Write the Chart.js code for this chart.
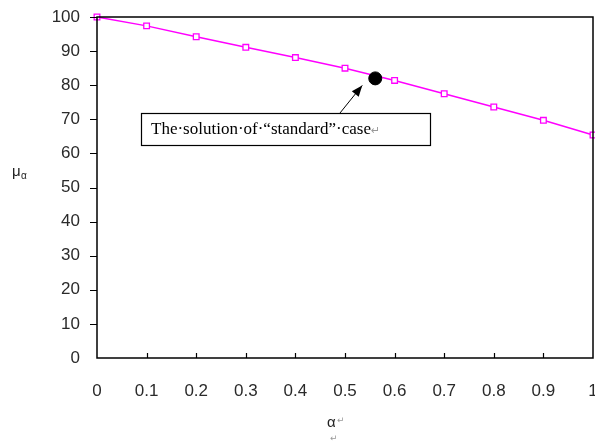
<!DOCTYPE html>
<html>
<head>
<meta charset="utf-8">
<script src="https://cdn.jsdelivr.net/npm/chart.js@4/dist/chart.umd.min.js"></script>
<style>
  html, body { margin: 0; padding: 0; background: #fff; }
  #wrap { width: 595px; height: 443px; }
</style>
</head>
<body>
<div id="wrap"><canvas id="Chart-1"></canvas></div>
<script>
const alphaValues = [0, 0.1, 0.2, 0.3, 0.4, 0.5, 0.6, 0.7, 0.8, 0.9, 1];
const muValues = [100, 97.4, 94.2, 91.1, 88.1, 85.0, 81.4, 77.5, 73.6, 69.7, 65.4];
const standardCase = { x: 0.561, y: 82 };
const noteText = 'The\u00b7solution\u00b7of\u00b7\u201cstandard\u201d\u00b7case';

// ticks, frame, annotation and axis titles
const decor = {
  id: 'decor',
  afterDraw(chart) {
    const { ctx, chartArea: a, scales: { x, y } } = chart;
    ctx.save();
    ctx.strokeStyle = '#000';
    ctx.lineWidth = 1.5;
    ctx.strokeRect(a.left, a.top, a.right - a.left, a.bottom - a.top);
    ctx.lineWidth = 1.2;
    ctx.beginPath();
    for (let v = 10; v <= 100; v += 10) {
      const py = Math.round(y.getPixelForValue(v)) + 0.5;
      ctx.moveTo(a.left - 7, py); ctx.lineTo(a.left, py);
    }
    for (let i = 1; i < 10; i++) {
      const px = Math.round(x.getPixelForValue(i / 10)) + 0.5;
      ctx.moveTo(px, a.bottom); ctx.lineTo(px, a.bottom - 5);
    }
    ctx.stroke();

    // annotation box
    const bx = 141, by = 113, bw = 289, bh = 32;
    ctx.lineWidth = 1.2;
    ctx.strokeRect(bx + 0.5, by + 0.5, bw, bh);
    ctx.fillStyle = '#000';
    ctx.font = '17px "Liberation Serif", "Times New Roman", serif';
    ctx.textBaseline = 'middle';
    ctx.textAlign = 'left';
    ctx.fillText(noteText, bx + 10, by + bh / 2 + 1);
    const tw = ctx.measureText(noteText).width;
    ctx.fillStyle = '#999';
    ctx.font = '11px "DejaVu Sans", sans-serif';
    ctx.fillText('\u21b5', bx + 10 + tw, by + bh / 2 + 2);

    // arrow
    const dx = x.getPixelForValue(standardCase.x);
    const dy = y.getPixelForValue(standardCase.y);
    const sx = 340, sy = by;
    const tx = dx - 13, ty = dy + 7;
    const ang = Math.atan2(ty - sy, tx - sx);
    ctx.strokeStyle = '#000';
    ctx.lineWidth = 1;
    ctx.beginPath(); ctx.moveTo(sx, sy); ctx.lineTo(tx, ty); ctx.stroke();
    ctx.fillStyle = '#000';
    ctx.beginPath();
    ctx.moveTo(tx, ty);
    ctx.lineTo(tx - 12 * Math.cos(ang - 0.38), ty - 12 * Math.sin(ang - 0.38));
    ctx.lineTo(tx - 12 * Math.cos(ang + 0.38), ty - 12 * Math.sin(ang + 0.38));
    ctx.closePath(); ctx.fill();

    // axis titles
    ctx.fillStyle = '#222';
    ctx.textAlign = 'left';
    ctx.font = '15px "Liberation Sans", Arial, sans-serif';
    ctx.fillText('\u03bc', 12, 172);
    ctx.font = '10px "Liberation Sans", Arial, sans-serif';
    ctx.fillText('\u03b1', 21, 176);
    ctx.font = '15px "Liberation Sans", Arial, sans-serif';
    ctx.fillText('\u03b1', 327, 423);
    ctx.fillStyle = '#999';
    ctx.font = '9px "DejaVu Sans", sans-serif';
    ctx.fillText('\u21b5', 337, 421);
    ctx.fillText('\u21b5', 330, 439);
    ctx.restore();
  }
};

new Chart(document.getElementById('Chart-1'), {
  type: 'scatter',
  data: {
    datasets: [{
      label: 'mu',
      data: alphaValues.map((a, i) => ({ x: a, y: muValues[i] })),
      showLine: true,
      borderColor: '#ff00ff',
      borderWidth: 1.5,
      pointStyle: 'rect',
      pointRadius: 4,
      pointBorderWidth: 1.3,
      pointBorderColor: '#ff00ff',
      pointBackgroundColor: '#fff',
      clip: false,
      order: 2
    }, {
      label: 'standard',
      data: [standardCase],
      pointStyle: 'circle',
      pointRadius: 6.5,
      pointBackgroundColor: '#000',
      pointBorderColor: '#000',
      order: 1
    }]
  },
  options: {
    responsive: true,
    maintainAspectRatio: false,
    animation: false,
    layout: { autoPadding: false, padding: { top: 17, right: 2, left: 0, bottom: 0 } },
    plugins: { legend: { display: false }, tooltip: { enabled: false } },
    scales: {
      x: {
        type: 'linear', min: 0, max: 1,
        grid: { display: false, drawTicks: false },
        border: { display: false },
        afterFit: s => { s.height = 85; s.paddingLeft = 0; s.paddingRight = 0; },
        ticks: {
          stepSize: 0.1, padding: 23, color: '#2a2a2a', maxRotation: 0,
          font: { family: '"Liberation Sans", Arial, sans-serif', size: 17 },
          callback: v => String(Math.round(v * 10) / 10)
        }
      },
      y: {
        min: 0, max: 100,
        grid: { display: false, drawTicks: false },
        border: { display: false },
        afterFit: s => { s.width = 97; s.paddingTop = 0; s.paddingBottom = 0; },
        ticks: {
          stepSize: 10, padding: 17, color: '#2a2a2a',
          font: { family: '"Liberation Sans", Arial, sans-serif', size: 17 }
        }
      }
    }
  },
  plugins: [decor]
});
</script>
</body>
</html>
